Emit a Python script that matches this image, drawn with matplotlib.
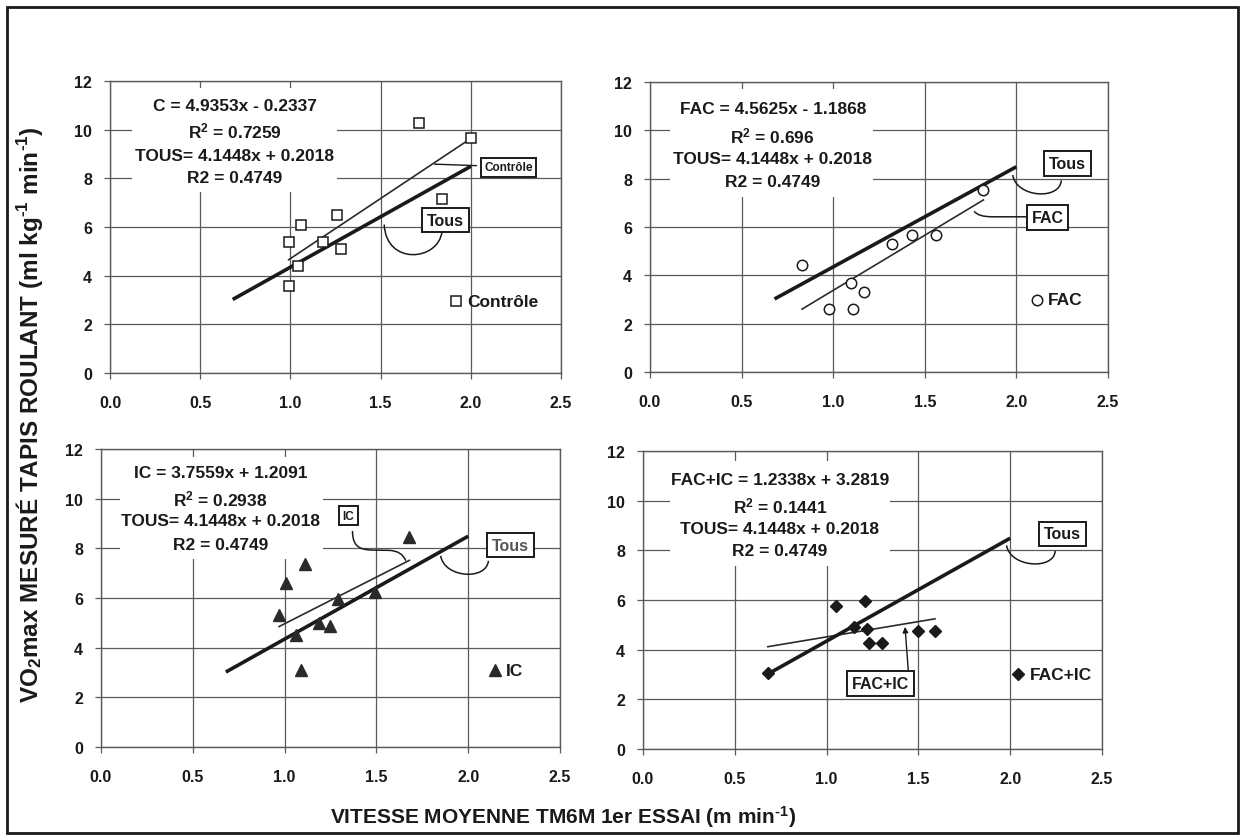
import matplotlib.pyplot as plt
from matplotlib.patches import PathPatch, Rectangle
from matplotlib.path import Path

plt.rcParams['font.family'] = ['Liberation Sans', 'DejaVu Sans']
plt.rcParams['font.weight'] = 'bold'
plt.rcParams['mathtext.fontset'] = 'custom'
plt.rcParams['mathtext.rm'] = 'Liberation Sans:bold'
plt.rcParams['mathtext.it'] = 'Liberation Sans:bold'
plt.rcParams['mathtext.bf'] = 'Liberation Sans:bold'

# vitesse moyenne (x) et VO2max mesuré (y) par groupe
ctrl_x = [0.99, 0.99, 1.04, 1.06, 1.18, 1.26, 1.28, 1.71, 1.84, 2.00]
ctrl_y = [3.59, 5.40, 4.39, 6.08, 5.40, 6.49, 5.10, 10.29, 7.14, 9.67]
fac_x = [0.83, 0.98, 1.10, 1.11, 1.17, 1.32, 1.43, 1.56, 1.82]
fac_y = [4.41, 2.62, 3.68, 2.62, 3.31, 5.28, 5.66, 5.66, 7.52]
ic_x = [0.97, 1.01, 1.06, 1.09, 1.11, 1.19, 1.25, 1.29, 1.49, 1.68]
ic_y = [5.31, 6.59, 4.50, 3.09, 7.37, 4.99, 4.88, 5.95, 6.26, 8.44]
facic_x = [0.68, 1.05, 1.15, 1.21, 1.22, 1.23, 1.30, 1.50, 1.59]
facic_y = [3.08, 5.76, 4.93, 5.97, 4.85, 4.26, 4.26, 4.76, 4.76]

# régressions linéaires : pente, ordonnée, R2
ctrl_fit = (4.9353, -0.2337, 0.7259)
fac_fit = (4.5625, -1.1868, 0.696)
ic_fit = (3.7559, 1.2091, 0.2938)
facic_fit = (1.2338, 3.2819, 0.1441)
tous_fit = (4.1448, 0.2018, 0.4749)

names = ['C', 'FAC', 'IC', 'FAC+IC']
legend_names = ['Contrôle', 'FAC', 'IC', 'FAC+IC']
xticks = [0.0, 0.5, 1.0, 1.5, 2.0, 2.5]
yticks = [0, 2, 4, 6, 8, 10, 12]

all_x = ctrl_x + fac_x + ic_x + facic_x
tous_x = [min(all_x), max(all_x)]

INK = '#1a1a1a'
GRID = '#5a5a5a'
SUP = r'$^{\text{-1}}$'


def fmt(v):
    return ('%.4f' % abs(v)).rstrip('0')


def equation(ax, cx, ys, name, fit, box):
    """Write the fit equations over a white patch hiding the grid."""
    x0, y0, x1, y1 = box
    ax.add_patch(Rectangle((x0, y0), x1 - x0, y1 - y0, facecolor='white',
                           edgecolor='none', zorder=1.5))
    a, b, r2 = fit
    ta, tb, tr2 = tous_fit
    sign = '-' if b < 0 else '+'
    lines = ['%s = %sx %s %s' % (name, fmt(a), sign, fmt(b)),
             r'R$^{2}$ = %s' % fmt(r2),
             'TOUS= %sx + %s' % (fmt(ta), fmt(tb)),
             'R2 = %s' % fmt(tr2)]
    for y, s in zip(ys, lines):
        ax.text(cx, y, s, ha='center', va='center', fontsize=12.5,
                fontweight='bold', color=INK, zorder=4)


def tag(ax, x, y, s, size=11.5, color=INK):
    ax.text(x, y, s, ha='center', va='center', fontsize=size,
            fontweight='bold', color=color, zorder=5,
            bbox=dict(boxstyle='square,pad=0.3', facecolor='white',
                      edgecolor=INK, linewidth=1.4))


def curl(ax, p0, p1, p2, p3):
    path = Path([p0, p1, p2, p3], [Path.MOVETO, Path.CURVE4,
                                   Path.CURVE4, Path.CURVE4])
    ax.add_patch(PathPatch(path, facecolor='none', edgecolor=INK,
                           linewidth=1.1, zorder=4))


fig = plt.figure(figsize=(12.42, 8.37), dpi=100)
fig.patch.set_facecolor('white')

boxes = [[0.0886, 0.5532, 0.3631, 0.3489],
         [0.5233, 0.5544, 0.3688, 0.3465],
         [0.0813, 0.1063, 0.3696, 0.3560],
         [0.5177, 0.1039, 0.3696, 0.3560]]
groups = [(ctrl_x, ctrl_y, ctrl_fit), (fac_x, fac_y, fac_fit),
          (ic_x, ic_y, ic_fit), (facic_x, facic_y, facic_fit)]
markers = [dict(marker='s', ms=7, mfc='white', mec=INK, mew=1.1),
           dict(marker='o', ms=7.5, mfc='white', mec=INK, mew=1.1),
           dict(marker='^', ms=8.5, mfc='#2a2a2a', mec='#2a2a2a'),
           dict(marker='D', ms=6.5, mfc=INK, mec=INK)]
eq_pos = [(0.69, [11.0, 9.95, 8.95, 8.03], (0.12, 7.42, 1.26, 11.7)),
          (0.67, [10.9, 9.8, 8.83, 7.9], (0.11, 7.25, 1.22, 11.7)),
          (0.65, [11.06, 10.0, 9.11, 8.17], (0.105, 7.57, 1.21, 11.7)),
          (0.745, [10.86, 9.81, 8.87, 7.98], (0.145, 7.37, 1.345, 11.6))]
key_pos = [(1.92, 2.94), (2.11, 2.99), (2.146, 3.1), (2.045, 3.02)]

axes = []
for i in range(4):
    ax = fig.add_axes(boxes[i])
    axes.append(ax)
    gx, gy, fit = groups[i]
    ax.set_xlim(0, 2.5)
    ax.set_ylim(0, 12)
    ax.set_xticks(xticks)
    ax.set_yticks(yticks)
    ax.set_xticklabels(['%.1f' % t for t in xticks])
    ax.grid(True, color=GRID, linewidth=0.9, zorder=0)
    ax.set_axisbelow(True)
    for sp in ax.spines.values():
        sp.set_color(GRID)
        sp.set_linewidth(1.0)
    ax.tick_params(direction='out', length=4, width=0.9, color=GRID,
                   labelsize=11.5, labelcolor=INK)
    ax.tick_params(axis='x', pad=12)
    ax.tick_params(axis='y', pad=9)
    for lab in ax.get_xticklabels() + ax.get_yticklabels():
        lab.set_fontweight('bold')

    a, b, r2 = fit
    lx = [min(gx), max(gx)]
    ax.plot(lx, [a * v + b for v in lx], color='#2a2a2a', linewidth=1.2,
            zorder=3)
    ta, tb, tr2 = tous_fit
    ax.plot(tous_x, [ta * v + tb for v in tous_x], color=INK, linewidth=2.6,
            solid_capstyle='butt', zorder=3)
    ax.plot(gx, gy, linestyle='none', zorder=4, **markers[i])

    cx, ys, wbox = eq_pos[i]
    equation(ax, cx, ys, names[i], fit, wbox)

    kx, ky = key_pos[i]
    ax.plot([kx], [ky], linestyle='none', zorder=4, **markers[i])
    ax.text(kx + 0.06, ky, legend_names[i], ha='left', va='center',
            fontsize=12.5, fontweight='bold', color=INK, zorder=4)

ax1, ax2, ax3, ax4 = axes

# Contrôle
tag(ax1, 2.21, 8.45, 'Contrôle', size=8.5)
ax1.plot([1.80, 2.03], [8.58, 8.52], color=INK, linewidth=1.0, zorder=4)
tag(ax1, 1.86, 6.28, 'Tous')
curl(ax1, (1.84, 5.8), (1.82, 4.6), (1.53, 4.4), (1.52, 6.1))

# FAC
tag(ax2, 2.28, 8.63, 'Tous')
curl(ax2, (2.245, 7.93), (2.24, 7.1), (2.0, 7.2), (1.98, 8.15))
tag(ax2, 2.17, 6.39, 'FAC')
path = Path([(2.07, 6.42), (1.87, 6.42), (1.79, 6.42), (1.77, 6.65)],
            [Path.MOVETO, Path.LINETO, Path.CURVE3, Path.CURVE3])
ax2.add_patch(PathPatch(path, facecolor='none', edgecolor=INK,
                        linewidth=1.1, zorder=4))

# IC
tag(ax3, 1.346, 9.31, 'IC', size=8.5)
path = Path([(1.37, 8.7), (1.37, 7.8), (1.45, 7.95), (1.57, 7.92),
             (1.64, 7.9), (1.66, 7.5)],
            [Path.MOVETO, Path.CURVE4, Path.CURVE4, Path.CURVE4,
             Path.CURVE3, Path.CURVE3])
ax3.add_patch(PathPatch(path, facecolor='none', edgecolor=INK,
                        linewidth=1.1, zorder=4))
tag(ax3, 2.23, 8.13, 'Tous', color='#555555')
curl(ax3, (2.11, 7.5), (2.1, 6.7), (1.87, 6.8), (1.85, 7.7))

# FAC+IC
tag(ax4, 2.285, 8.66, 'Tous')
curl(ax4, (2.245, 7.98), (2.24, 7.2), (2.0, 7.3), (1.98, 8.2))
tag(ax4, 1.295, 2.65, 'FAC+IC')
ax4.annotate('', xy=(1.427, 4.92), xytext=(1.445, 3.15),
             arrowprops=dict(arrowstyle='-|>', color=INK, lw=1.0,
                             mutation_scale=8, shrinkA=0, shrinkB=0),
             zorder=4)

fig.text(0.024, 0.505,
         r'VO$_{2}$max MESURÉ TAPIS ROULANT (ml kg' + SUP + ' min' + SUP + ')',
         rotation=90, ha='center', va='center', fontsize=17.5,
         fontweight='bold', color=INK)
fig.text(0.453, 0.024, 'VITESSE MOYENNE TM6M 1er ESSAI (m min' + SUP + ')',
         ha='center', va='center', fontsize=15, fontweight='bold', color=INK)

fig.patches.append(Rectangle((0.006, 0.003), 0.991, 0.987,
                             transform=fig.transFigure, facecolor='none',
                             edgecolor=INK, linewidth=2.0))

fig.savefig('out.png', dpi=100)
